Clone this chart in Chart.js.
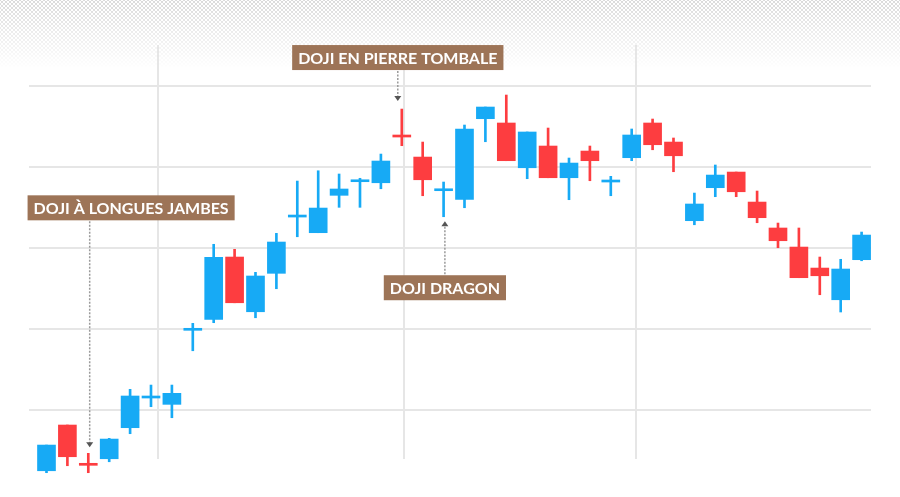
<!DOCTYPE html>
<html>
<head>
<meta charset="utf-8">
<script src="https://cdn.jsdelivr.net/npm/chart.js@4.4.1/dist/chart.umd.min.js"></script>
<style>
    html, body { margin: 0; padding: 0; background: #fff; }
    #wrap { position: relative; width: 900px; height: 497px; overflow: hidden; }
    #dots {
        position: absolute; left: 0; top: 0; width: 900px; height: 72px;
        background-image:
            radial-gradient(circle, #d9d9d9 0.7px, transparent 1.1px),
            radial-gradient(circle, #d9d9d9 0.7px, transparent 1.1px);
        background-size: 4px 4px;
        background-position: 0 0, 2px 2px;
        -webkit-mask-image: linear-gradient(to bottom, #000 0%, rgba(0,0,0,0.5) 45%, transparent 95%);
        mask-image: linear-gradient(to bottom, #000 0%, rgba(0,0,0,0.5) 45%, transparent 95%);
    }
    canvas { position: absolute; left: 0; top: 0; }
</style>
</head>
<body>
<div id="wrap">
    <div id="dots"></div>
    <canvas id="dojiChart" width="900" height="497"></canvas>
</div>
<script>
// Séances (bougies)
const opens  = [2.51, 8.15, 3.43, 3.99, 7.82, 11.48, 10.70, 19.83, 21.19, 28.87,
                22.12, 26.86, 33.80, 31.87, 36.48, 38.16, 38.03, 43.92, 41.20, 37.05,
                35.99, 45.93, 45.40, 39.88, 42.56, 38.65, 41.94, 38.12, 41.12, 45.40,
                43.05, 33.35, 37.42, 39.35, 35.65, 32.45, 30.10, 27.51, 23.60, 28.54];
const highs  = [5.68, 8.15, 4.66, 6.51, 12.55, 13.08, 13.08, 20.69, 30.44, 29.82,
                26.98, 31.79, 38.24, 39.51, 39.11, 38.58, 41.57, 47.12, 43.05, 38.12,
                45.15, 47.37, 48.85, 44.29, 44.78, 41.08, 42.56, 38.82, 44.66, 45.89,
                43.55, 36.76, 40.22, 39.35, 37.01, 33.06, 32.45, 28.87, 28.59, 31.95];
const lows   = [2.27, 3.13, 2.27, 3.62, 7.08, 10.41, 9.05, 17.31, 20.77, 23.23,
                21.38, 24.96, 31.37, 31.87, 35.00, 35.00, 37.29, 42.60, 36.43, 33.84,
                34.95, 43.09, 40.75, 38.53, 38.65, 35.94, 38.28, 36.43, 40.75, 42.10,
                39.39, 32.85, 36.31, 36.31, 33.10, 30.02, 26.32, 24.22, 22.09, 28.41];
const closes = [5.68, 4.24, 3.18, 6.42, 11.73, 11.73, 12.06, 20.08, 28.83, 23.23,
                26.53, 30.72, 34.05, 34.91, 37.26, 38.40, 40.71, 43.67, 38.40, 37.29,
                44.66, 47.37, 40.75, 44.29, 38.65, 40.46, 40.75, 38.37, 43.92, 42.72,
                41.36, 35.41, 38.98, 36.92, 33.72, 30.88, 26.32, 26.56, 27.39, 31.58];

// Lignes de la grille
const priceGrid = [10, 20, 30, 40, 50];
const timeGrid = [5.32, 17.09, 28.19];

// Annotations
const callouts = [
    { text: "DOJI EN PIERRE TOMBALE", candle: 17, side: "above" },
    { text: "DOJI À LONGUES JAMBES", candle: 2, side: "above" },
    { text: "DOJI DRAGON", candle: 19, side: "below" },
];
const calloutStyles = [
    { dx: -4, anchor: 0.5, gap: 8, arm: 31 },
    { dx: 1.4, anchor: 0.3, gap: 6, arm: 227 },
    { dx: 1.3, anchor: 0.5, gap: 4.5, arm: 54 },
];

const BLUE = "#17aaf5";
const RED = "#fd3d40";
const colorFor = c => closes[c.dataIndex] >= opens[c.dataIndex] ? BLUE : RED;

const wickData = opens.map((_, i) => ({ x: i, y: [lows[i], highs[i]] }));
const bodyData = opens.map((_, i) => ({ x: i, y: [opens[i], closes[i]] }));

const calloutPlugin = {
    id: "callouts",
    afterDatasetsDraw(chart) {
        const { ctx, scales: { x, y } } = chart;
        ctx.save();
        ctx.font = "700 16px Lato";
        callouts.forEach((c, k) => {
            const s = calloutStyles[k];
            const above = c.side === "above";
            const ax = x.getPixelForValue(c.candle) + s.dx;
            const tipY = above
                ? y.getPixelForValue(highs[c.candle]) - s.gap
                : y.getPixelForValue(lows[c.candle]) + s.gap;
            const w = ctx.measureText(c.text).width + 12;
            const h = 25;
            const bx = ax - w * s.anchor;
            const by = above ? tipY - s.arm - h : tipY + s.arm;

            ctx.fillStyle = "#9d7457";
            ctx.fillRect(bx, by, w, h);
            ctx.fillStyle = "#ffffff";
            ctx.textBaseline = "middle";
            ctx.fillText(c.text, bx + 6, by + h / 2 + 1);

            // ligne pointillée
            const lineStart = above ? by + h + 1 : by - 1;
            const lineEnd = above ? tipY - 4 : tipY + 4;
            ctx.strokeStyle = "#9a9a9a";
            ctx.lineWidth = 1.5;
            ctx.setLineDash([2, 1.5]);
            ctx.beginPath();
            ctx.moveTo(ax, lineStart);
            ctx.lineTo(ax, lineEnd);
            ctx.stroke();
            ctx.setLineDash([]);

            // pointe de flèche
            const dir = above ? 1 : -1;
            ctx.fillStyle = "#555555";
            ctx.beginPath();
            ctx.moveTo(ax, tipY);
            ctx.lineTo(ax - 3.5, tipY - 5 * dir);
            ctx.lineTo(ax + 3.5, tipY - 5 * dir);
            ctx.closePath();
            ctx.fill();
        });
        ctx.restore();
    }
};

const ctx = document.getElementById("dojiChart").getContext("2d");
new Chart(ctx, {
    type: "bar",
    data: {
        datasets: [
            {
                label: "Mèches",
                data: wickData,
                backgroundColor: colorFor,
                barThickness: 2,
                grouped: false,
                clip: false,
                order: 2,
            },
            {
                label: "Corps",
                data: bodyData,
                backgroundColor: colorFor,
                barThickness: 18,
                grouped: false,
                clip: false,
                order: 1,
            },
        ],
    },
    options: {
        responsive: false,
        animation: false,
        layout: { padding: { left: 29, right: 29, top: 45, bottom: 38 } },
        plugins: {
            legend: { display: false },
            tooltip: { enabled: false },
        },
        scales: {
            x: {
                type: "linear",
                min: -0.837,
                max: 39.45,
                offset: false,
                ticks: { display: false },
                border: { display: false },
                grid: { color: "#e6e6e6", lineWidth: 2, drawTicks: false, offset: false },
                afterBuildTicks: axis => { axis.ticks = timeGrid.map(v => ({ value: v })); },
            },
            y: {
                min: 3.96,
                max: 55.02,
                ticks: { display: false },
                border: { display: false },
                grid: { color: "#e6e6e6", lineWidth: 2, drawTicks: false },
                afterBuildTicks: axis => { axis.ticks = priceGrid.map(v => ({ value: v })); },
            },
        },
    },
    plugins: [calloutPlugin],
});
</script>
</body>
</html>
